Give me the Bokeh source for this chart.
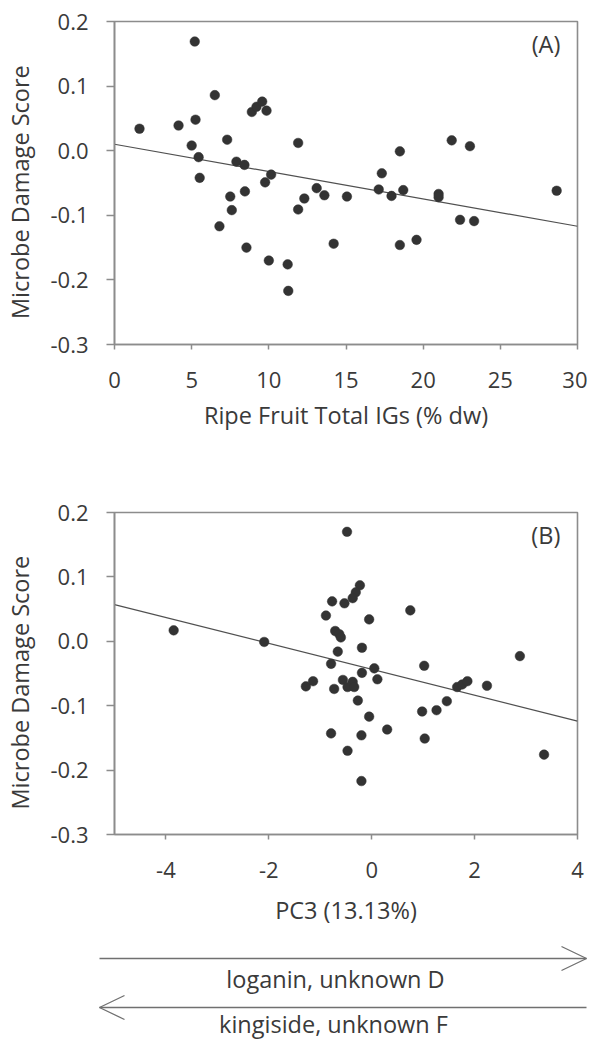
from bokeh.plotting import figure
from bokeh.models import FixedTicker, PrintfTickFormatter, Label, Range1d
from bokeh.layouts import column
from bokeh.embed import file_html
from bokeh.resources import INLINE
from bokeh.core.properties import value

FONT = "Open Sans"
FRAME = "#8c8c8c"
TEXT = "#3a3a3a"
DOT = "#333333"
FIT = "#505050"
ARROW = "#707070"

# ---------------- data ----------------
# Panel A: Ripe fruit total IGs (% dw) vs microbe damage score
a_x = [1.62, 4.15, 5.2, 5.25, 5.0, 5.45, 5.52, 6.5, 6.8, 7.3,
       7.5, 7.6, 7.9, 8.42, 8.45, 8.55, 8.9, 9.2, 9.57, 9.85,
       9.76, 10.15, 10.0, 11.22, 11.26, 11.9, 11.9, 12.3, 13.1, 13.6,
       14.2, 15.06, 17.12, 17.32, 17.95, 18.49, 18.71, 18.49, 19.57, 21.0,
       21.0, 21.85, 22.39, 23.03, 23.3, 28.65]
a_y = [0.034, 0.039, 0.169, 0.048, 0.008, -0.010, -0.042, 0.086, -0.117, 0.017,
       -0.071, -0.092, -0.017, -0.022, -0.063, -0.150, 0.060, 0.068, 0.076, 0.062,
       -0.049, -0.037, -0.170, -0.176, -0.217, 0.012, -0.091, -0.074, -0.058, -0.069,
       -0.144, -0.071, -0.060, -0.035, -0.070, -0.001, -0.061, -0.146, -0.138, -0.067,
       -0.072, 0.016, -0.107, 0.007, -0.109, -0.062]
a_fit_x = [0, 30]
a_fit_y = [0.010, -0.117]

# Panel B: PC3 (13.13%) vs microbe damage score
b_x = [-3.85, -2.09, -0.48, -0.23, -0.31, -0.37, -0.77, -0.53, -0.89, -0.05,
       0.75, -0.71, -0.63, -0.60, -0.66, -0.19, -0.79, 0.05, -0.19, 0.11,
       1.02, -1.28, -1.14, -0.56, -0.37, -0.47, -0.34, -0.73, -0.27, -0.05,
       0.30, -0.79, -0.20, -0.47, -0.20, 0.98, 1.26, 1.46, 1.03, 1.66,
       1.76, 1.86, 2.24, 2.88, 3.35]
b_y = [0.017, -0.001, 0.170, 0.087, 0.076, 0.067, 0.062, 0.059, 0.040, 0.034,
       0.048, 0.016, 0.011, 0.006, -0.016, -0.010, -0.035, -0.042, -0.049, -0.059,
       -0.038, -0.070, -0.062, -0.060, -0.063, -0.071, -0.071, -0.074, -0.092, -0.117,
       -0.137, -0.143, -0.146, -0.170, -0.217, -0.109, -0.107, -0.093, -0.151, -0.071,
       -0.067, -0.062, -0.069, -0.023, -0.176]
b_fit_x = [-5, 4]
b_fit_y = [0.057, -0.124]

y_ticks = [-0.3, -0.2, -0.1, 0.0, 0.1, 0.2]
a_x_ticks = [0, 5, 10, 15, 20, 25, 30]
b_x_ticks = [-4, -2, 0, 2, 4]

y_title = "Microbe Damage Score"
a_title = "Ripe Fruit Total IGs (% dw)"
b_title = "PC3 (13.13%)"
arrow_texts = ["loganin, unknown D", "kingiside, unknown F"]

W = 587
FW = 463
LB = 114
TICK_FS = "22px"
TITLE_FS = "23.5px"
NB = "\u00a0" * 3  # keeps the vertical title slightly below the frame centre


def style(p, xt, xstand):
    p.grid.visible = False
    p.outline_line_color = FRAME
    p.outline_line_width = 1.6
    p.xaxis.ticker = FixedTicker(ticks=xt)
    p.xaxis.formatter = PrintfTickFormatter(format="%d")
    p.yaxis.ticker = FixedTicker(ticks=y_ticks)
    p.yaxis.formatter = PrintfTickFormatter(format="%.1f")
    for ax in (p.xaxis, p.yaxis):
        ax.axis_line_color = FRAME
        ax.axis_line_width = 1.6
        ax.major_tick_line_color = FRAME
        ax.major_tick_line_width = 1.5
        ax.minor_tick_line_color = None
        ax.major_tick_in = 0
        ax.major_label_text_font = FONT
        ax.major_label_text_font_size = TICK_FS
        ax.major_label_text_color = TEXT
        ax.axis_label_text_font = FONT
        ax.axis_label_text_font_size = TITLE_FS
        ax.axis_label_text_font_style = "normal"
        ax.axis_label_text_color = TEXT
    p.xaxis.major_tick_out = 5
    p.yaxis.major_tick_out = 8
    p.xaxis.major_label_standoff = 22
    p.yaxis.major_label_standoff = 18
    p.xaxis.axis_label_standoff = xstand
    p.yaxis.axis_label_standoff = 11


def panel(xs, ys, fx, fy, xr, xt, xlabel, tag, top, fh, bottom, xstand):
    p = figure(width=W, height=top + fh + bottom, frame_width=FW, frame_height=fh,
               x_range=Range1d(*xr), y_range=Range1d(-0.3, 0.2),
               toolbar_location=None, output_backend="svg",
               min_border_left=LB, min_border_right=W - LB - FW,
               min_border_top=top, min_border_bottom=bottom,
               x_axis_label=xlabel, y_axis_label=y_title + NB)
    style(p, xt, xstand)
    p.line(fx, fy, line_color=FIT, line_width=1.2)
    p.scatter(xs, ys, size=9.6, fill_color=DOT, line_color=DOT, line_width=0.5)
    span = xr[1] - xr[0]
    p.add_layout(Label(x=xr[1] - span * 0.037, y=0.190,
                       text=tag, text_align="right", text_baseline="top",
                       text_font=FONT, text_font_size=TITLE_FS, text_color=TEXT))
    return p


pa = panel(a_x, a_y, a_fit_x, a_fit_y, (0, 30), a_x_ticks, a_title, "(A)", 21, 323, 100, 8)
pb = panel(b_x, b_y, b_fit_x, b_fit_y, (-5, 4), b_x_ticks, b_title, "(B)", 68, 322, 100, 13)

# ---------------- direction arrows under panel B (page-pixel coordinates) ----------------
CH = 106
pc = figure(width=W, height=CH, x_range=Range1d(0, W), y_range=Range1d(0, CH),
            toolbar_location=None, output_backend="svg",
            x_axis_type=None, y_axis_type=None,
            min_border_left=0, min_border_right=0, min_border_top=0, min_border_bottom=0)
pc.frame_align = False
pc.grid.visible = False
pc.outline_line_color = None
x0, x1 = 99, 586
ya, yb = CH - 24, CH - 73
hl, hw = 25, 12
pc.multi_line(xs=[[x0, x1], [x1 - hl, x1, x1 - hl], [x0, x1], [x0 + hl, x0, x0 + hl]],
              ys=[[ya, ya], [ya + hw, ya, ya - hw], [yb, yb], [yb + hw, yb, yb - hw]],
              line_color=ARROW, line_width=1.3)
pc.text(x=[335, 333], y=[CH - 44, CH - 89], text=arrow_texts,
        text_font=value(FONT), text_font_size=TITLE_FS, text_color=TEXT,
        text_align="center", text_baseline="middle")

layout = column(pa, pb, pc, spacing=0)
open("out.html", "w").write(file_html(layout, INLINE))
